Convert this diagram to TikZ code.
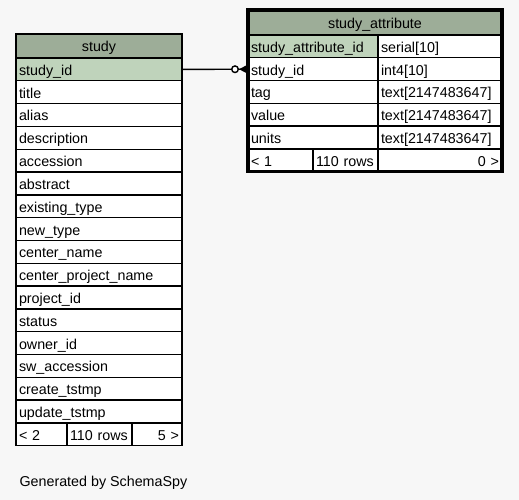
\documentclass[tikz,border=0pt]{standalone}
\usepackage{fontspec}
\setmainfont{Liberation Sans}
\usepackage{tikz}
\usetikzlibrary{arrows.meta, positioning}
\definecolor{hdrgreen}{HTML}{9DAD98}
\definecolor{keygreen}{HTML}{BFD3BB}
\definecolor{canvas}{HTML}{F7F7F7}
\tikzset{
  cell/.style={rectangle, draw=black, line width=1.4pt, fill=white,
               minimum height=22.8pt, inner xsep=3pt, inner ysep=0pt,
               outer sep=0pt, text height=12.5pt, text depth=0.5pt,
               text width=#1, align=left},
  head/.style={cell=#1, fill=hdrgreen, align=center},
  key/.style={cell=#1, fill=keygreen},
  cellR/.style={cell=#1, align=right},
  outline/.style={draw=black, line width=3.2pt},
  crow/.style={-{Circle[open, fill=white, length=8pt, width=8pt, sep=0pt]
               Triangle[reversed, length=9pt, width=9pt]}, line width=1.4pt},
}

\begin{document}
\begin{tikzpicture}[x=1pt, y=-1pt, font=\fontsize{14.3}{17}\selectfont]

  \fill[canvas] (0,0) rectangle (519,500);
  \useasboundingbox (0,0) rectangle (519,500);

  % study
  \node[head=160pt, minimum height=24pt] (study) at (99,46) {study};
  \node[key=160pt,  below=0pt of study]      (study-id)    {study\_id};
  \node[cell=160pt, below=0pt of study-id]   (study-title) {title};
  \node[cell=160pt, below=0pt of study-title](study-alias) {alias};
  \node[cell=160pt, below=0pt of study-alias](study-desc)  {description};
  \node[cell=160pt, below=0pt of study-desc] (study-acc)   {accession};
  \node[cell=160pt, below=0pt of study-acc]  (study-abs)   {abstract};
  \node[cell=160pt, below=0pt of study-abs]  (study-ext)   {existing\_type};
  \node[cell=160pt, below=0pt of study-ext]  (study-new)   {new\_type};
  \node[cell=160pt, below=0pt of study-new]  (study-cn)    {center\_name};
  \node[cell=160pt, below=0pt of study-cn]   (study-cpn)   {center\_project\_name};
  \node[cell=160pt, below=0pt of study-cpn]  (study-pid)   {project\_id};
  \node[cell=160pt, below=0pt of study-pid]  (study-stat)  {status};
  \node[cell=160pt, below=0pt of study-stat] (study-own)   {owner\_id};
  \node[cell=160pt, below=0pt of study-own]  (study-sw)    {sw\_accession};
  \node[cell=160pt, below=0pt of study-sw]   (study-crt)   {create\_tstmp};
  \node[cell=160pt, below=0pt of study-crt]  (study-upd)   {update\_tstmp};
  \node[cell=45pt,  below right=0pt and 0pt of study-upd.south west] (study-prev) {< 2};
  \node[cell=59pt,  right=0pt of study-prev] (study-rows)  {110 rows};
  \node[cellR=44pt, right=0pt of study-rows] (study-next)  {5 >};

  % study_attribute
  \node[head=248pt, minimum height=25pt] (sa) at (375,22.5) {study\_attribute};
  \node[key=124pt,  below right=0pt and 0pt of sa.south west] (sa-id) {study\_attribute\_id};
  \node[cell=118pt, right=0pt of sa-id]      (sa-id-t)    {serial[10]};
  \node[cell=124pt, below=0pt of sa-id]      (sa-sid)     {study\_id};
  \node[cell=118pt, right=0pt of sa-sid]     (sa-sid-t)   {int4[10]};
  \node[cell=124pt, below=0pt of sa-sid]     (sa-tag)     {tag};
  \node[cell=118pt, right=0pt of sa-tag]     (sa-tag-t)   {text[2147483647]};
  \node[cell=124pt, below=0pt of sa-tag]     (sa-val)     {value};
  \node[cell=118pt, right=0pt of sa-val]     (sa-val-t)   {text[2147483647]};
  \node[cell=124pt, below=0pt of sa-val]     (sa-unit)    {units};
  \node[cell=118pt, right=0pt of sa-unit]    (sa-unit-t)  {text[2147483647]};
  \node[cell=59pt,  below right=0pt and 0pt of sa-unit.south west] (sa-prev) {< 1};
  \node[cell=59pt,  right=0pt of sa-prev]    (sa-rows)    {110 rows};
  \node[cellR=118pt, right=0pt of sa-rows]   (sa-next)    {0 >};
  \draw[outline] (sa.north west) rectangle (sa-next.south east);

  \draw[crow] (study-id.east) -- (sa-sid.west);

  \node[anchor=base west] (credit) at (16,486) {Generated by SchemaSpy};

\end{tikzpicture}
\end{document}
